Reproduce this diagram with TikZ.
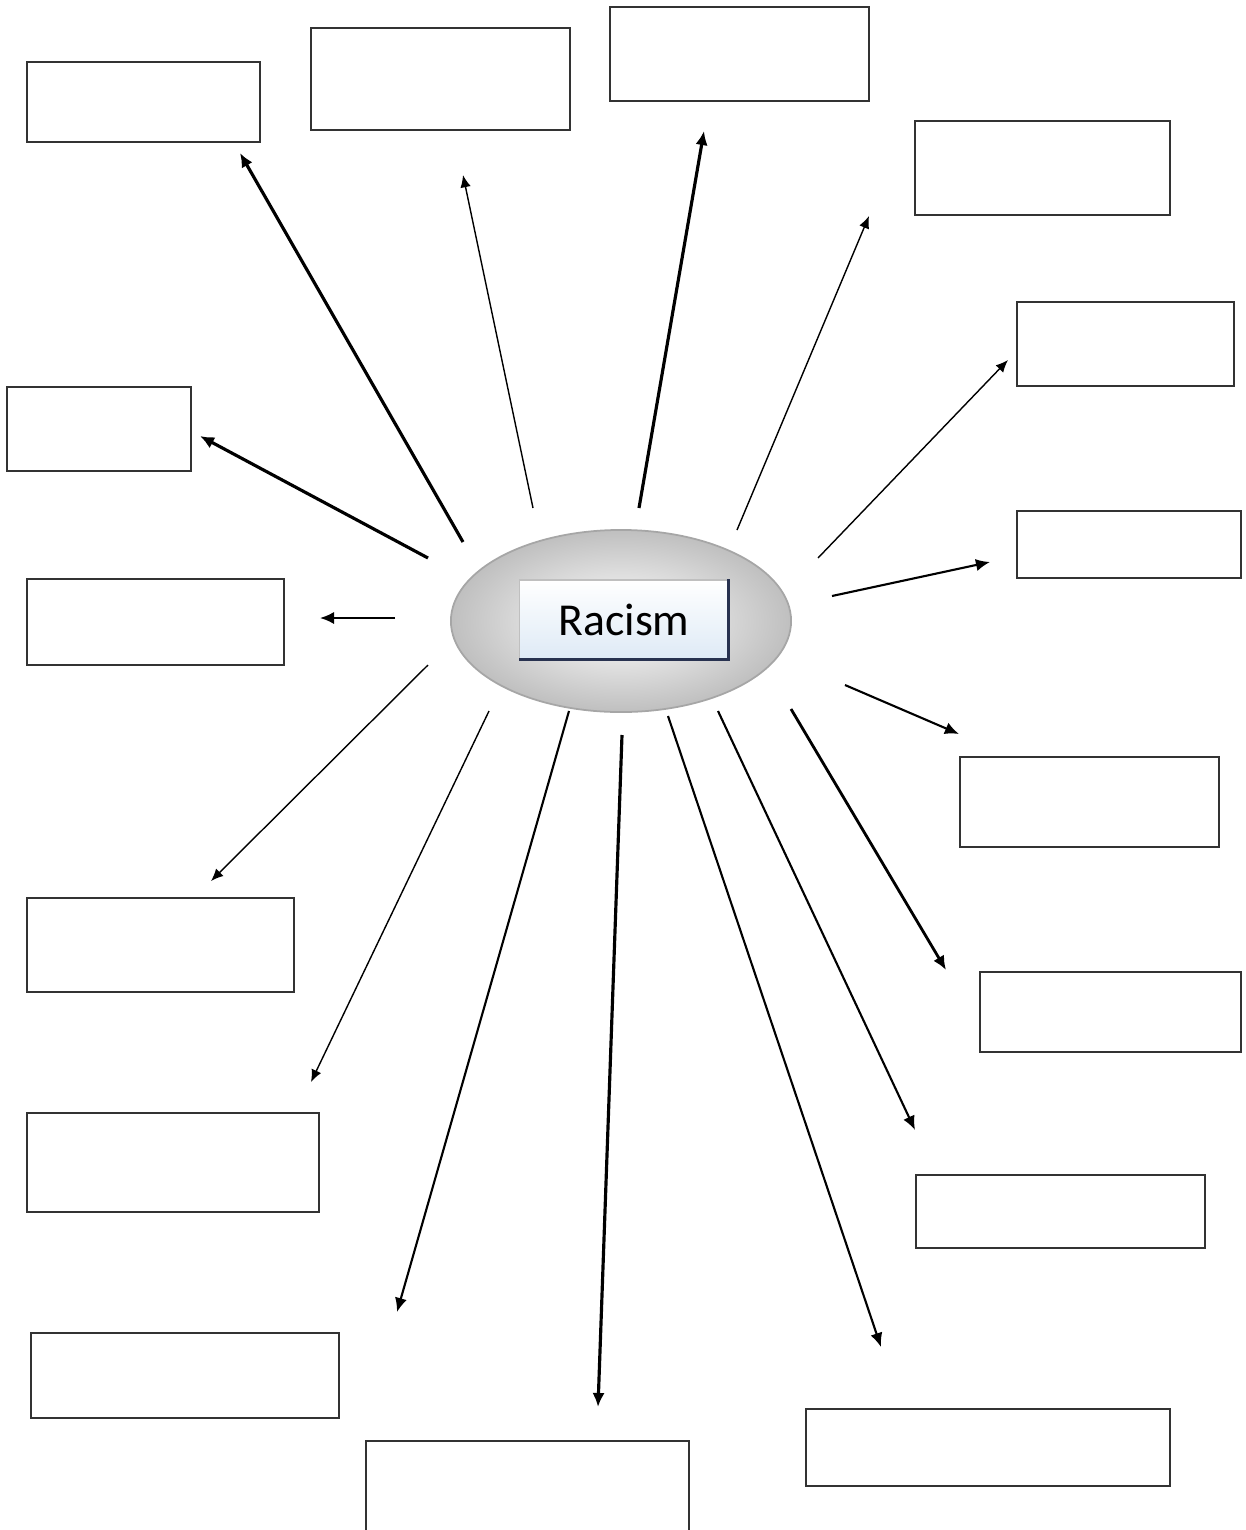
\documentclass[tikz,border=0pt]{standalone}
\usepackage{fontspec}
\usetikzlibrary{shapes.geometric,arrows.meta}
\newfontfamily\boxfont{Carlito}
\definecolor{paleblue}{RGB}{222,234,246}
\definecolor{edgeblue}{RGB}{40,50,80}

\begin{document}
\begin{tikzpicture}[x=0.01cm, y=-0.01cm]
\useasboundingbox (0,0) rectangle (1245,1530);
\clip (0,0) rectangle (1245,1530);

\tikzset{BoxStyle/.style = {
 shape = rectangle,
 draw = black!80,
 line width = 0.6pt,
 fill = white,
 inner sep = 0pt,
 outer sep = 0pt} }

\node[BoxStyle, minimum width=2.33cm, minimum height=0.80cm] (B1) at (143.5,102) {};
\node[BoxStyle, minimum width=2.59cm, minimum height=1.02cm] (B2) at (440.5,79) {};
\node[BoxStyle, minimum width=2.59cm, minimum height=0.94cm] (B3) at (739.5,54) {};
\node[BoxStyle, minimum width=2.55cm, minimum height=0.94cm] (B4) at (1042.5,168) {};
\node[BoxStyle, minimum width=2.17cm, minimum height=0.84cm] (B5) at (1125.5,344) {};
\node[BoxStyle, minimum width=2.24cm, minimum height=0.67cm] (B6) at (1129,544.5) {};
\node[BoxStyle, minimum width=1.84cm, minimum height=0.84cm] (B7) at (99,429) {};
\node[BoxStyle, minimum width=2.57cm, minimum height=0.86cm] (B8) at (155.5,622) {};
\node[BoxStyle, minimum width=2.59cm, minimum height=0.90cm] (B9) at (1089.5,802) {};
\node[BoxStyle, minimum width=2.67cm, minimum height=0.94cm] (B10) at (160.5,945) {};
\node[BoxStyle, minimum width=2.61cm, minimum height=0.80cm] (B11) at (1110.5,1012) {};
\node[BoxStyle, minimum width=2.92cm, minimum height=0.99cm] (B12) at (173,1162.5) {};
\node[BoxStyle, minimum width=2.89cm, minimum height=0.73cm] (B13) at (1060.5,1211.5) {};
\node[BoxStyle, minimum width=3.08cm, minimum height=0.85cm] (B14) at (185,1375.5) {};
\node[BoxStyle, minimum width=3.64cm, minimum height=0.77cm] (B15) at (988,1447.5) {};
\node[BoxStyle, minimum width=3.23cm, minimum height=1.20cm] (B16) at (527.5,1501) {};

% centre
\node[ellipse, draw=gray!70, line width=0.5pt, minimum width=3.4cm, minimum height=1.82cm,
 inner color=white, outer color=gray!50] (Hub) at (621,621) {};
\node[draw=gray!50, line width=0.3pt, minimum width=2.08cm, minimum height=0.79cm,
 top color=white, bottom color=paleblue, inner sep=0pt,
 font=\boxfont\fontsize{13}{15}\selectfont] (Topic) at (624,619.5) {Racism};
\draw[line width=1pt, edgeblue] (Topic.south west) -- (Topic.south east) -- (Topic.north east);

\coordinate (S1) at (463,542);  \coordinate (E1) at (240,153);
\coordinate (S2) at (533,508);  \coordinate (E2) at (463,175);
\coordinate (S3) at (639,508);  \coordinate (E3) at (704,131);
\coordinate (S4) at (737,530);  \coordinate (E4) at (869,216);
\coordinate (S5) at (818,558);  \coordinate (E5) at (1008,360);
\coordinate (S6) at (832,596);  \coordinate (E6) at (990,562);
\coordinate (S7) at (428,558);  \coordinate (E7) at (200,436);
\coordinate (S8) at (395,618);  \coordinate (E8) at (320,618);
\coordinate (S9) at (428,665);  \coordinate (E9) at (211,881);
\coordinate (S10) at (489,711); \coordinate (E10) at (311,1082);
\coordinate (S11) at (569,711); \coordinate (E11) at (397,1312);
\coordinate (S12) at (622,735); \coordinate (E12) at (598,1407);
\coordinate (S13) at (668,716); \coordinate (E13) at (881,1347);
\coordinate (S14) at (718,711); \coordinate (E14) at (915,1130);
\coordinate (S15) at (791,709); \coordinate (E15) at (946,970);
\coordinate (S16) at (845,685); \coordinate (E16) at (959,734);

\tikzset{LinkStyle/.style = {line width=0.6pt, -{Latex[length=4pt,width=3.5pt]}} }
\tikzset{ThinLink/.style = {line width=0.4pt, -{Latex[length=3.5pt,width=3pt]}} }

\draw[LinkStyle, line width=0.9pt] (S1) -- (E1);
\draw[ThinLink] (S2) -- (E2);
\draw[LinkStyle, line width=0.9pt] (S3) -- (E3);
\draw[ThinLink] (S4) -- (E4);
\draw[ThinLink] (S5) -- (E5);
\draw[LinkStyle] (S6) -- (E6);
\draw[LinkStyle, line width=0.9pt] (S7) -- (E7);
\draw[LinkStyle] (S8) -- (E8);
\draw[ThinLink] (S9) -- (E9);
\draw[ThinLink] (S10) -- (E10);
\draw[LinkStyle] (S11) -- (E11);
\draw[LinkStyle, line width=0.9pt] (S12) -- (E12);
\draw[LinkStyle] (S13) -- (E13);
\draw[LinkStyle] (S14) -- (E14);
\draw[LinkStyle, line width=0.8pt] (S15) -- (E15);
\draw[LinkStyle] (S16) -- (E16);

\end{tikzpicture}
\end{document}
